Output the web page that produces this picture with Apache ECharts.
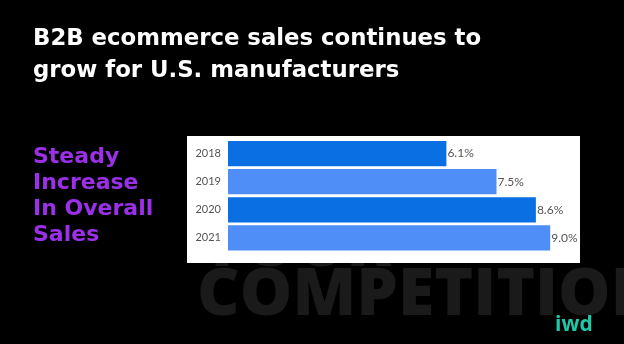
<!DOCTYPE html>
<html><head><meta charset="utf-8">
<script src="https://cdn.jsdelivr.net/npm/echarts@6/dist/echarts.min.js"></script>
<style>html,body{margin:0;padding:0;background:#000;}#c{width:624px;height:344px;}</style>
</head><body><div id="c"></div>
<script>
const categories = ['2018', '2019', '2020', '2021'];
const salesGrowth = [6.1, 7.5, 8.6, 9.0];
const barColors = ['#0a6fe3', '#4f8ef7', '#0a6fe3', '#4f8ef7'];
const titleLines = ['B2B ecommerce sales continues to', 'grow for U.S. manufacturers'];
const sideLines = ['Steady', 'Increase', 'In Overall', 'Sales'];

const chart = echarts.init(document.getElementById('c'), null, {renderer: 'canvas'});
chart.setOption({
  backgroundColor: '#000',
  animation: false,
  grid: {left: 228, top: 139.5, width: 358, height: 112.5, z: 10},
  xAxis: {type: 'value', min: 0, max: 10, show: false},
  yAxis: {
    type: 'category', data: categories, inverse: true, z: 10,
    axisLine: {show: false}, axisTick: {show: false},
    axisLabel: {color: '#555555', fontSize: 11, fontFamily: 'Lato', margin: 7}
  },
  graphic: [
    {type: 'text', left: 200, top: 214, z: 1, style: {text: 'YOUR', fill: '#1a1a1a', font: '800 66px "Open Sans"', letterSpacing: -1}},
    {type: 'text', left: 197, top: 263, z: 1, style: {text: 'COMPETITION', fill: '#1a1a1a', font: '800 66px "Open Sans"', letterSpacing: -1}},
    {type: 'rect', z: 2, shape: {x: 187, y: 136, width: 393, height: 127}, style: {fill: '#fff'}},
    {type: 'text', left: 33, top: 23, style: {text: titleLines.join('\n'), fill: '#fff', font: 'bold 22.8px "DejaVu Sans"', lineHeight: 32}},
    {type: 'text', left: 33, top: 144, style: {text: sideLines.join('\n'), fill: '#9b30e8', font: 'bold 22px "DejaVu Sans"', lineHeight: 26}},
    {type: 'text', left: 555, top: 315, style: {text: 'iwd', fill: '#1fc9a8', font: 'bold 21px "Open Sans"'}}
  ],
  series: [{
    type: 'bar', z: 10,
    data: salesGrowth.map((v, i) => ({value: v, itemStyle: {color: barColors[i]}})),
    barCategoryGap: '10%',
    label: {show: true, position: 'right', distance: 1, color: '#555555', fontSize: 12, fontFamily: 'Lato', formatter: p => p.value.toFixed(1) + '%'}
  }]
});
</script></body></html>
